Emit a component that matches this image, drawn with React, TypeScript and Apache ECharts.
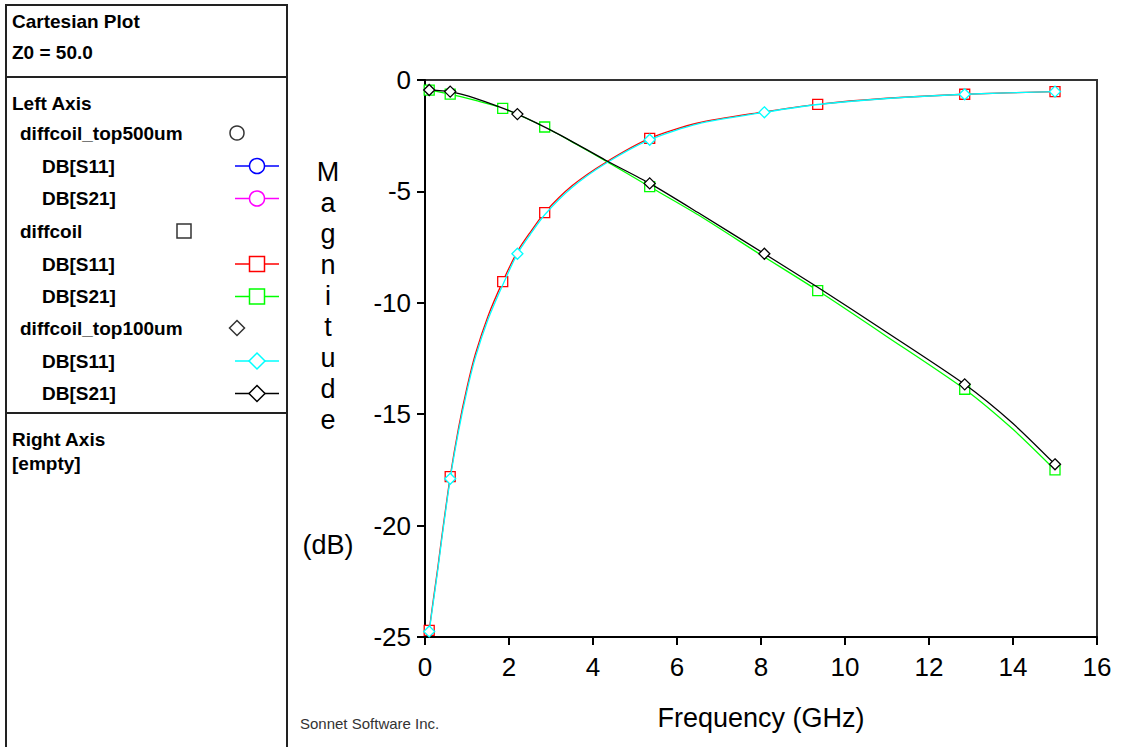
import React, { useEffect, useRef } from "react";
import * as echarts from "echarts";

// ---- Axis ranges / ticks ----
const FREQ_MIN = 0;
const FREQ_MAX = 16;
const FREQ_STEP = 2;
const DB_MIN = -25;
const DB_MAX = 0;
const DB_STEP = 5;

// ---- diffcoil DB[S11] (red, squares) ----
const diffcoilS11Freq = [0.1, 0.2, 0.3, 0.4, 0.6, 0.8, 1.0, 1.2, 1.5, 1.85, 2.2, 2.5, 2.85, 3.5, 4.3, 5.35, 6.5, 8.0, 9.35, 11.0, 12.85, 15.0];
const diffcoilS11DB = [-24.7, -23.3, -21.95, -20.5, -17.8, -15.6, -13.8, -12.3, -10.6, -9.05, -7.7, -6.85, -5.95, -4.75, -3.7, -2.62, -1.93, -1.45, -1.09, -0.82, -0.64, -0.52];
const diffcoilS11Markers = [0, 4, 9, 12, 15, 18, 20, 21];

// ---- diffcoil DB[S21] (green, squares) ----
const diffcoilS21Freq = [0.1, 0.6, 1.2, 1.85, 2.85, 3.6, 4.3, 5.35, 6.5, 8.0, 9.35, 11.0, 12.85, 14.0, 15.0];
const diffcoilS21DB = [-0.45, -0.63, -0.92, -1.27, -2.11, -2.88, -3.63, -4.79, -6.05, -7.85, -9.45, -11.52, -13.88, -15.68, -17.5];
const diffcoilS21Markers = [0, 1, 3, 4, 7, 10, 12, 14];

// ---- diffcoil_top100um DB[S11] (cyan, diamonds) ----
const top100S11Freq = [0.1, 0.2, 0.3, 0.4, 0.6, 0.8, 1.0, 1.2, 1.5, 1.85, 2.2, 2.5, 2.85, 3.5, 4.3, 5.35, 6.5, 8.08, 9.35, 11.0, 12.85, 15.0];
const top100S11DB = [-24.75, -23.4, -22.05, -20.6, -17.9, -15.75, -13.95, -12.45, -10.75, -9.2, -7.8, -6.95, -6.05, -4.83, -3.75, -2.68, -1.97, -1.45, -1.1, -0.83, -0.64, -0.52];
const top100S11Markers = [0, 4, 10, 15, 17, 20, 21];

// ---- diffcoil_top100um DB[S21] (black, diamonds) ----
const top100S21Freq = [0.1, 0.6, 1.2, 2.2, 3.2, 4.3, 5.35, 6.5, 8.08, 9.35, 11.0, 12.85, 14.0, 15.0];
const top100S21DB = [-0.45, -0.52, -0.82, -1.53, -2.45, -3.6, -4.64, -5.95, -7.8, -9.3, -11.33, -13.66, -15.42, -17.25];
const top100S21Markers = [0, 1, 3, 6, 8, 11, 13];

// ---- Legend panel entries ----
const panelTitle = ["Cartesian Plot", "Z0 = 50.0"];
const leftAxisTitle = "Left Axis";
const rightAxisTitle = "Right Axis";
const rightAxisEntry = "[empty]";
const groupNames = ["diffcoil_top500um", "diffcoil", "diffcoil_top100um"];
const paramNames = ["DB[S11]", "DB[S21]"];
const groupColors = [
  ["#0000ff", "#ff00ff"],
  ["#ff0000", "#00ff00"],
  ["#00ffff", "#000000"],
];
const groupSymbols = ["circle", "square", "diamond"];

const xAxisTitle = "Frequency (GHz)";
const yAxisTitleLetters = ["M", "a", "g", "n", "i", "t", "u", "d", "e"];
const yAxisUnit = "(dB)";
const footer = "Sonnet Software Inc.";

function buildData(freq: number[], db: number[], markers: number[], symbol: string, size: number) {
  return freq.map((f, i) =>
    markers.indexOf(i) >= 0
      ? { value: [f, db[i]], symbol, symbolSize: size }
      : { value: [f, db[i]], symbol: "none" }
  );
}

const PANEL_FONT = 'bold 19px "Liberation Sans", Arial, sans-serif';

function txt(text: string, x: number, y: number, font: string, fill = "#000", align = "left") {
  return {
    type: "text",
    x,
    y,
    silent: true,
    style: {
      text,
      font,
      fill,
      align,
      textAlign: align,
      verticalAlign: "middle",
      textVerticalAlign: "middle",
    },
  };
}

function hline(x1: number, x2: number, y: number, stroke = "#222", w = 2) {
  return { type: "line", silent: true, shape: { x1, y1: y, x2, y2: y }, style: { stroke, lineWidth: w } };
}
function vline(x: number, y1: number, y2: number, stroke = "#222", w = 2) {
  return { type: "line", silent: true, shape: { x1: x, y1, x2: x, y2 }, style: { stroke, lineWidth: w } };
}

function symbolShape(kind: string, cx: number, cy: number, size: number, stroke: string) {
  const h = size / 2;
  if (kind === "circle") {
    return { type: "circle", silent: true, shape: { cx, cy, r: h }, style: { fill: "#fff", stroke, lineWidth: 1.5 } };
  }
  if (kind === "square") {
    return { type: "rect", silent: true, shape: { x: cx - h, y: cy - h, width: size, height: size }, style: { fill: "#fff", stroke, lineWidth: 1.5 } };
  }
  return {
    type: "polygon",
    silent: true,
    shape: { points: [[cx, cy - h], [cx + h, cy], [cx, cy + h], [cx - h, cy]] },
    style: { fill: "#fff", stroke, lineWidth: 1.5 },
  };
}

function buildPanel() {
  const els: any[] = [];
  // frame
  els.push(hline(5, 288, 5));
  els.push(vline(6, 4, 747));
  els.push(vline(287, 4, 747));
  els.push(hline(6, 287, 77));
  els.push(hline(6, 287, 413));

  els.push(txt(panelTitle[0], 12, 21, PANEL_FONT));
  els.push(txt(panelTitle[1], 12, 52, PANEL_FONT));
  els.push(txt(leftAxisTitle, 12, 103, PANEL_FONT));

  const groupY = [133, 231, 328];
  const groupSymX = [237, 184, 237];
  groupNames.forEach((g, gi) => {
    const gy = groupY[gi];
    els.push(txt(g, 20, gy, PANEL_FONT));
    els.push(symbolShape(groupSymbols[gi], groupSymX[gi], gy, groupSymbols[gi] === "diamond" ? 15 : 14, "#333"));
    paramNames.forEach((p, pi) => {
      const py = gy + 33 + pi * 32.5;
      els.push(txt(p, 42, py, PANEL_FONT));
      const c = groupColors[gi][pi];
      els.push(hline(235, 279, py, c, 1.5));
      els.push(symbolShape(groupSymbols[gi], 257, py, groupSymbols[gi] === "diamond" ? 16 : 15, c));
    });
  });

  els.push(txt(rightAxisTitle, 12, 439, PANEL_FONT));
  els.push(txt(rightAxisEntry, 12, 463, PANEL_FONT));

  // axis titles and footer
  els.push({
    type: "text",
    x: 328,
    y: 296,
    silent: true,
    style: {
      text: yAxisTitleLetters.join("\n"),
      font: '27px "Liberation Sans", Arial, sans-serif',
      lineHeight: 31,
      fill: "#000",
      align: "center",
      textAlign: "center",
      verticalAlign: "middle",
      textVerticalAlign: "middle",
    },
  });
  els.push(txt(yAxisUnit, 328, 545, '27px "Liberation Sans", Arial, sans-serif', "#000", "center"));
  els.push(txt(xAxisTitle, 761, 718, '27px "Liberation Sans", Arial, sans-serif', "#000", "center"));
  els.push(txt(footer, 300, 723, '15px "Liberation Sans", Arial, sans-serif', "#333", "left"));
  return els;
}

function lineSeries(name: string, freq: number[], db: number[], markers: number[], color: string, symbol: string, size: number, z: number) {
  return {
    type: "line",
    name,
    data: buildData(freq, db, markers, symbol, size),
    smooth: 0.25,
    symbol,
    symbolSize: size,
    showSymbol: true,
    showAllSymbol: true,
    clip: false,
    z,
    lineStyle: { color, width: 1.3 },
    itemStyle: { color: "#ffffff", borderColor: color, borderWidth: 1.3 },
    emphasis: { disabled: true },
  };
}

export default function App() {
  const ref = useRef<HTMLDivElement>(null);
  useEffect(() => {
    document.body.style.margin = "0";
    if (!ref.current) return;
    const chart = echarts.init(ref.current, null, { renderer: "svg" });
    chart.setOption({
      animation: false,
      backgroundColor: "#ffffff",
      grid: {
        left: 425,
        right: 34,
        top: 80,
        bottom: 110,
        show: true,
        borderColor: "#333",
        borderWidth: 2,
        backgroundColor: "transparent",
      },
      xAxis: {
        type: "value",
        min: FREQ_MIN,
        max: FREQ_MAX,
        interval: FREQ_STEP,
        splitLine: { show: false },
        axisLine: { show: true, onZero: false, lineStyle: { color: "#000", width: 2 } },
        axisTick: { show: true, length: 8, lineStyle: { color: "#000", width: 2 } },
        axisLabel: { color: "#000", fontSize: 26, fontFamily: '"Liberation Sans", Arial, sans-serif', margin: 17 },
      },
      yAxis: {
        type: "value",
        min: DB_MIN,
        max: DB_MAX,
        interval: DB_STEP,
        splitLine: { show: false },
        axisLine: { show: true, onZero: false, lineStyle: { color: "#000", width: 2 } },
        axisTick: { show: true, length: 8, lineStyle: { color: "#000", width: 2 } },
        axisLabel: { color: "#000", fontSize: 26, fontFamily: '"Liberation Sans", Arial, sans-serif', margin: 14 },
      },
      tooltip: { show: false },
      series: [
        lineSeries("diffcoil DB[S11]", diffcoilS11Freq, diffcoilS11DB, diffcoilS11Markers, "#ff0000", "rect", 10, 2),
        lineSeries("diffcoil DB[S21]", diffcoilS21Freq, diffcoilS21DB, diffcoilS21Markers, "#00ff00", "rect", 10, 2),
        lineSeries("diffcoil_top100um DB[S11]", top100S11Freq, top100S11DB, top100S11Markers, "#00ffff", "diamond", 11, 3),
        lineSeries("diffcoil_top100um DB[S21]", top100S21Freq, top100S21DB, top100S21Markers, "#000000", "diamond", 11, 3),
      ],
      graphic: { elements: buildPanel() },
    });
    return () => chart.dispose();
  }, []);
  return <div ref={ref} style={{ width: 1131, height: 747 }} />;
}
